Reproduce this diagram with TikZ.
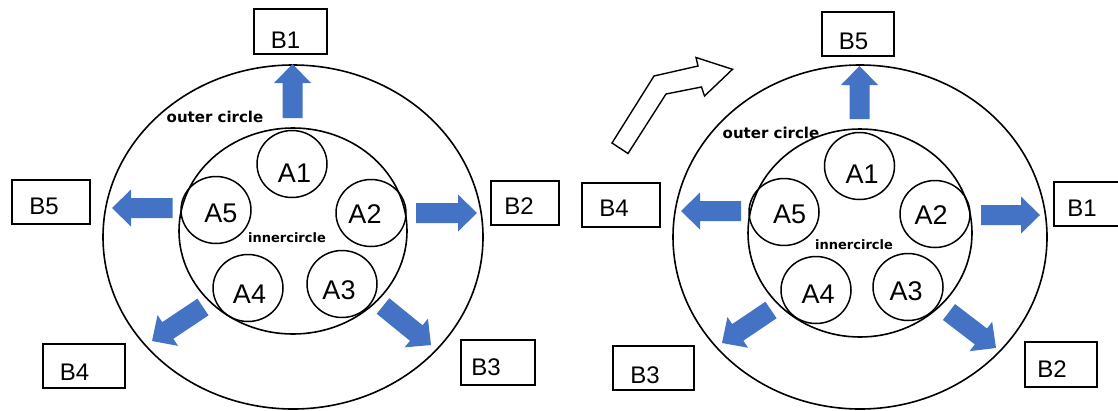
\documentclass[tikz,border=0pt]{standalone}
\usepackage{fontspec}
\setmainfont{Liberation Sans}
\newfontfamily\djbold{DejaVu Sans}[BoldFont={DejaVu Sans Bold}]
\usetikzlibrary{calc,shapes.geometric}
\definecolor{arrowblue}{HTML}{4472C4}
\tikzset{
  ring/.style={draw=black, line width=1.6pt, ellipse, inner sep=0pt},
  acirc/.style={draw=black, line width=1.5pt, ellipse, inner sep=0pt, minimum width=70pt, minimum height=67pt},
  alab/.style={inner sep=0pt, font=\fontsize{27pt}{30pt}\selectfont},
  bbox/.style={draw=black, line width=1.6pt, rectangle, inner sep=0pt},
  blab/.style={inner sep=0pt, font=\fontsize{24pt}{28pt}\selectfont},
  ringlab/.style={inner sep=0pt, font=\djbold\bfseries\fontsize{#1}{#1}\selectfont},
  hollow/.style={draw=black, line width=1.4pt, fill=white, line join=miter},
}
\newcommand\barrow[2]{%
  \coordinate (hb) at ($(#2)!19pt!(#1)$);
  \fill[arrowblue] ($(#1)!10pt!90:(#2)$) -- ($(hb)!10pt!90:(#2)$) -- ($(hb)!18.5pt!90:(#2)$) -- (#2)
    -- ($(hb)!18.5pt!-90:(#2)$) -- ($(hb)!10pt!-90:(#2)$) -- ($(#1)!10pt!-90:(#2)$) -- cycle;}
\begin{document}
\begin{tikzpicture}[x=1pt,y=-1pt]
\useasboundingbox (0,0) rectangle (1118,410);
\fill[white] (0,0) rectangle (1118,410);

% ---------------- left diagram ----------------
\node[ring, minimum width=380pt, minimum height=344pt] (Lout) at (293,237) {};
\node[ring, minimum width=228pt, minimum height=206pt] (Lin) at (293,231) {};
\node[acirc] (La1) at (292,164) {};
\node[acirc] (La2) at (371,213) {};
\node[acirc] (La3) at (342,284) {};
\node[acirc] (La4) at (248,288) {};
\node[acirc] (La5) at (216,210) {};
\node[alab] (La1t) at (294.5,173) {A1};
\node[alab] (La2t) at (365,214) {A2};
\node[alab] (La3t) at (339,290) {A3};
\node[alab] (La4t) at (249.5,294) {A4};
\node[alab] (La5t) at (221,213) {A5};
\node[ringlab=15pt] (Loutt) at (215,117) {outer circle};
\node[ringlab=13pt] (Lint) at (287,238) {innercircle};

\node[bbox, minimum width=73pt, minimum height=45pt] (Lb1) at (290.5,31.5) {};
\node[bbox, minimum width=68pt, minimum height=44pt] (Lb2) at (525,203) {};
\node[bbox, minimum width=74pt, minimum height=45pt] (Lb3) at (498,362.5) {};
\node[bbox, minimum width=82pt, minimum height=44pt] (Lb4) at (84,366) {};
\node[bbox, minimum width=78pt, minimum height=44pt] (Lb5) at (51,202) {};
\node[blab] (Lb1t) at (285.5,40) {B1};
\node[blab] (Lb2t) at (519,206) {B2};
\node[blab] (Lb3t) at (486,367) {B3};
\node[blab] (Lb4t) at (74.5,372) {B4};
\node[blab] (Lb5t) at (44,206) {B5};

\coordinate (Lu0) at (292.5,118); \coordinate (Lu1) at (292.5,64);
\coordinate (Lr0) at (416,213);   \coordinate (Lr1) at (477,213);
\coordinate (Ll0) at (172.5,208); \coordinate (Ll1) at (112,208);
\coordinate (Ldl0) at (203,307);  \coordinate (Ldl1) at (152,341);
\coordinate (Ldr0) at (383,306);  \coordinate (Ldr1) at (431,345);
\barrow{Lu0}{Lu1}
\barrow{Lr0}{Lr1}
\barrow{Ll0}{Ll1}
\barrow{Ldl0}{Ldl1}
\barrow{Ldr0}{Ldr1}

% ---------------- right diagram ----------------
\node[ring, minimum width=374pt, minimum height=344pt] (Rout) at (860,237) {};
\node[ring, minimum width=224pt, minimum height=208pt] (Rin) at (860,233) {};
\node[acirc] (Ra1) at (859.5,166) {};
\node[acirc] (Ra2) at (935,214) {};
\node[acirc] (Ra3) at (908,287) {};
\node[acirc] (Ra4) at (816,290) {};
\node[acirc] (Ra5) at (784,212) {};
\node[alab] (Ra1t) at (862,174.5) {A1};
\node[alab] (Ra2t) at (931,215) {A2};
\node[alab] (Ra3t) at (906,291.5) {A3};
\node[alab] (Ra4t) at (818,294.5) {A4};
\node[alab] (Ra5t) at (789.5,214) {A5};
\node[ringlab=15pt] (Routt) at (771,133) {outer circle};
\node[ringlab=13pt] (Rint) at (854,245) {innercircle};

\node[bbox, minimum width=71.5pt, minimum height=44pt] (Rb5) at (858,34) {};
\node[bbox, minimum width=72pt, minimum height=44pt] (Rb1) at (1090,204) {};
\node[bbox, minimum width=72pt, minimum height=45pt] (Rb2) at (1061,364.5) {};
\node[bbox, minimum width=81pt, minimum height=44pt] (Rb3) at (653.5,368) {};
\node[bbox, minimum width=78pt, minimum height=44pt] (Rb4) at (621,205) {};
\node[blab] (Rb5t) at (853.5,41) {B5};
\node[blab] (Rb1t) at (1082,208.5) {B1};
\node[blab] (Rb2t) at (1052,369.5) {B2};
\node[blab] (Rb3t) at (645,375) {B3};
\node[blab] (Rb4t) at (614,208) {B4};

\coordinate (Ru0) at (859.5,119); \coordinate (Ru1) at (859.5,66);
\coordinate (Rr0) at (981,215);   \coordinate (Rr1) at (1040,215);
\coordinate (Rl0) at (741,211);   \coordinate (Rl1) at (681,211);
\coordinate (Rdl0) at (771,310);  \coordinate (Rdl1) at (722,343);
\coordinate (Rdr0) at (949,312);  \coordinate (Rdr1) at (996,348);
\barrow{Ru0}{Ru1}
\barrow{Rr0}{Rr1}
\barrow{Rl0}{Rl1}
\barrow{Rdl0}{Rdl1}
\barrow{Rdr0}{Rdr1}

% hollow bent arrow
\draw[hollow] (612,143) -- (654,76) -- (698,66) -- (696,57.5) -- (732.5,69.3) -- (704.5,96) -- (701.5,87) -- (666,94) -- (628,153.5) -- cycle;
\end{tikzpicture}
\end{document}
